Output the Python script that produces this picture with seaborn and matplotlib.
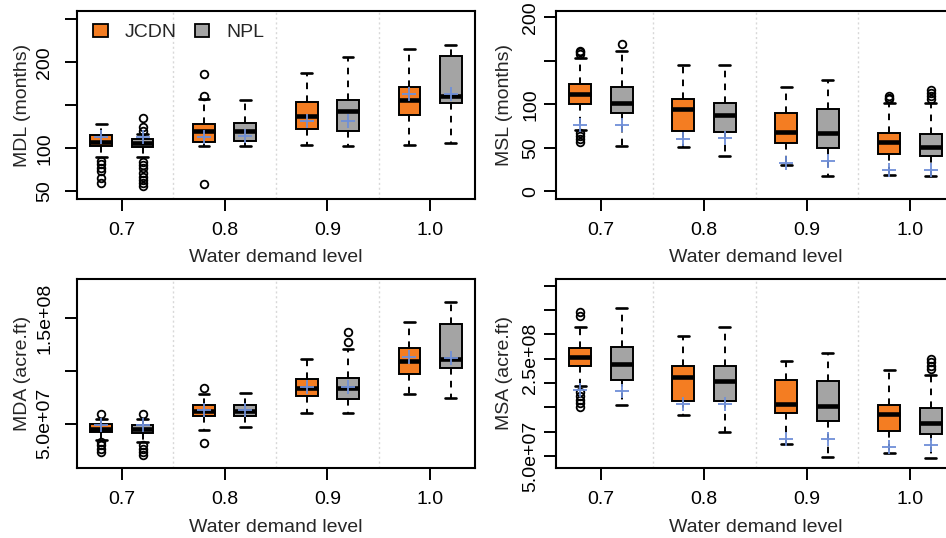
import numpy as np
import pandas as pd
import seaborn as sns
import matplotlib
matplotlib.use("Agg")
import matplotlib.pyplot as plt
from matplotlib.patches import Patch

# ---------------- data ----------------
LEVELS = [0.7, 0.8, 0.9, 1.0]
LEVEL_LABELS = ["0.7", "0.8", "0.9", "1.0"]
SERIES = ["JCDN", "NPL"]

# MDL (months)
mdl_jcdn = {"whislo": [90.4, 102.7, 103.8, 103.8], "q1": [102.7, 107.7, 122.3, 139.2],
            "med": [107.3, 120.4, 138.0, 155.8], "q3": [115.0, 128.0, 153.8, 171.2],
            "whishi": [128.8, 157.7, 187.7, 215.4], "mean": [112.7, 113.5, 131.9, 163.5]}
mdl_jcdn_fliers = [[85.8, 81.9, 76.9, 73.8, 65.4, 59.6], [186.5, 160.4, 58.8], [], []]
mdl_npl = {"whislo": [90.4, 102.7, 103.0, 105.8], "q1": [101.9, 108.8, 120.0, 153.1],
           "med": [105.8, 120.4, 143.5, 160.4], "q3": [110.4, 129.6, 155.8, 206.9],
           "whishi": [117.0, 156.5, 205.8, 220.4], "mean": [112.7, 114.2, 131.5, 163.5]}
mdl_npl_fliers = [[135.8, 125.0, 120.4, 84.6, 80.8, 76.9, 71.2, 67.3, 63.5, 59.6, 55.8], [], [], []]

# MSL (months)
msl_jcdn = {"whislo": [70.0, 50.5, 30.6, 18.4], "q1": [100.6, 69.2, 55.4, 43.2],
            "med": [111.7, 94.5, 67.7, 56.6], "q3": [123.5, 105.9, 89.5, 66.9],
            "whishi": [153.7, 144.9, 120.5, 102.1], "mean": [76.5, 60.0, 32.5, 24.1]}
msl_jcdn_fliers = [[161.8, 159.8, 157.9, 66.9, 63.5, 60.0, 56.2], [], [], [109.8, 107.8, 105.9]]
msl_npl = {"whislo": [52.4, 40.2, 17.2, 17.2], "q1": [89.9, 67.7, 50.1, 40.2],
           "med": [102.1, 87.6, 66.9, 50.5], "q3": [119.7, 101.3, 94.8, 66.2],
           "whishi": [161.8, 144.9, 127.7, 101.3], "mean": [76.1, 60.8, 34.4, 24.1]}
msl_npl_fliers = [[169.0], [], [], [116.6, 113.0, 109.8, 105.9]]

# MDA (acre.ft)
mda_jcdn = {"whislo": [3.49e7, 4.37e7, 6.04e7, 7.78e7], "q1": [4.21e7, 5.69e7, 7.59e7, 9.73e7],
            "med": [4.53e7, 6.20e7, 8.38e7, 10.99e7], "q3": [4.94e7, 6.74e7, 9.26e7, 12.16e7],
            "whishi": [5.47e7, 7.84e7, 11.09e7, 14.62e7], "mean": [4.84e7, 6.26e7, 8.47e7, 11.31e7]}
mda_jcdn_fliers = [[5.95e7, 3.26e7, 2.95e7, 2.63e7, 2.32e7], [8.41e7, 3.17e7], [], []]
mda_npl = {"whislo": [3.26e7, 4.68e7, 6.04e7, 7.46e7], "q1": [4.12e7, 5.69e7, 7.37e7, 10.27e7],
           "med": [4.46e7, 6.20e7, 8.38e7, 11.15e7], "q3": [4.84e7, 6.74e7, 9.32e7, 14.46e7],
           "whishi": [5.47e7, 7.93e7, 12.10e7, 16.51e7], "mean": [4.84e7, 6.26e7, 8.47e7, 11.25e7]}
mda_npl_fliers = [[5.95e7, 2.95e7, 2.63e7, 2.32e7, 2.0e7], [], [13.74e7, 12.79e7], []]

# MSA (acre.ft)
msa_jcdn = {"whislo": [19.4e7, 13.5e7, 7.4e7, 5.68e7], "q1": [23.6e7, 16.4e7, 13.9e7, 10.07e7],
            "med": [25.3e7, 21.2e7, 15.75e7, 13.7e7], "q3": [27.2e7, 23.6e7, 20.55e7, 15.4e7],
            "whishi": [31.6e7, 29.7e7, 24.45e7, 22.6e7], "mean": [18.5e7, 15.75e7, 8.56e7, 6.85e7]}
msa_jcdn_fliers = [[34.7e7, 33.8e7, 18.2e7, 17.4e7, 16.6e7, 15.8e7, 15.1e7], [], [], []]
msa_npl = {"whislo": [15.4e7, 9.93e7, 4.8e7, 4.66e7], "q1": [20.7e7, 16.4e7, 12.2e7, 9.6e7],
           "med": [24.0e7, 20.5e7, 15.2e7, 11.85e7], "q3": [27.5e7, 23.6e7, 20.5e7, 14.9e7],
           "whishi": [35.5e7, 31.6e7, 26.2e7, 21.7e7], "mean": [18.3e7, 15.75e7, 8.56e7, 7.19e7]}
msa_npl_fliers = [[], [], [], [25.0e7, 24.3e7, 23.6e7, 22.9e7]]

# ---------------- style ----------------
ORANGE = "#F47D22"
GRAY = "#A4A4A4"
MEAN_COLOR = "#6F8FD8"
SEP_COLOR = "#D8D8D8"
OFFSET = 0.0201
BOX_W = 0.021

sns.set_style("ticks")
plt.rcParams["font.family"] = ["Liberation Sans", "DejaVu Sans"]
plt.rcParams["font.size"] = 14

W, H = 946, 538
fig = plt.figure(figsize=(W / 100, H / 100), dpi=100)


def px_axes(l, t, r, b):
    return fig.add_axes([l / W, 1 - b / H, (r - l) / W, (b - t) / H])


def make_stats(d, fliers):
    keys = ["whislo", "q1", "med", "q3", "whishi", "mean"]
    return [dict({k: d[k][i] for k in keys}, fliers=fliers[i]) for i in range(len(LEVELS))]


def draw_panel(ax, jc, jc_f, npl, npl_f, ylabel, ylim, yticks, yticklabels,
               ylab_x, ytick_pad):
    for k, (d, f, color, sgn) in enumerate([(jc, jc_f, ORANGE, -1), (npl, npl_f, GRAY, 1)]):
        pos = [lv + sgn * OFFSET for lv in LEVELS]
        ax.bxp(make_stats(d, f), positions=pos, widths=BOX_W, capwidths=BOX_W * 0.5,
               patch_artist=True, showmeans=False, showfliers=True, manage_ticks=False,
               boxprops=dict(facecolor=color, edgecolor="black", linewidth=1.4),
               medianprops=dict(color="black", linewidth=3.3, solid_capstyle="butt"),
               whiskerprops=dict(color="black", linewidth=1.4, linestyle=(0, (3.4, 3.2))),
               capprops=dict(color="black", linewidth=1.9),
               flierprops=dict(marker="o", markerfacecolor="none", markeredgecolor="black",
                               markersize=5.5, markeredgewidth=1.3))
        sns.scatterplot(x=pos, y=d["mean"], marker="+", color=MEAN_COLOR, s=95,
                        linewidth=1.3, ax=ax, zorder=6, legend=False)
    for xs in [0.75, 0.85, 0.95]:
        ax.axvline(xs, color=SEP_COLOR, linestyle=(0, (1.5, 2.0)), linewidth=1.0, zorder=0)
    ax.set_xlim(0.6563, 1.0437)
    ax.set_ylim(*ylim)
    ax.set_xticks(LEVELS)
    ax.set_xticklabels(LEVEL_LABELS)
    ax.set_yticks(yticks)
    ax.set_yticklabels(yticklabels, rotation=90, va="center")
    ax.tick_params(axis="x", length=8.5, width=1.4, pad=8.0, labelsize=14, colors="black")
    ax.tick_params(axis="y", length=8.5, width=1.4, pad=ytick_pad, labelsize=14, colors="black")
    for sp in ax.spines.values():
        sp.set_linewidth(1.5)
        sp.set_color("black")
    ax.set_xlabel("Water demand level", fontsize=14)
    ax.xaxis.label.set_verticalalignment("center")
    ax.xaxis.set_label_coords(0.5, -59 / 188)
    ax.set_ylabel(ylabel, fontsize=14)
    ax.yaxis.label.set_verticalalignment("center")
    ax.yaxis.set_label_coords(ylab_x, 0.5)


ax1 = px_axes(77, 11, 475, 199)
ax2 = px_axes(556, 11, 955, 199)
ax3 = px_axes(77, 279, 475, 468)
ax4 = px_axes(556, 279, 955, 468)

draw_panel(ax1, mdl_jcdn, mdl_jcdn_fliers, mdl_npl, mdl_npl_fliers, "MDL (months)",
           (41.2, 259.6), [50, 100, 150, 200, 250], ["50", "100", "", "200", ""], -0.138, 8.6)
draw_panel(ax2, msl_jcdn, msl_jcdn_fliers, msl_npl, msl_npl_fliers, "MSL (months)",
           (-8.8, 207.3), [0, 50, 100, 150, 200], ["0", "50", "100", "", "200"], -0.130, 3.5)
draw_panel(ax3, mda_jcdn, mda_jcdn_fliers, mda_npl, mda_npl_fliers, "MDA (acre.ft)",
           (0.8e7, 18.72e7), [5e7, 1e8, 1.5e8], ["5.0e+07", "", "1.5e+08"], -0.138, 8.6)
msa_ticks = [5e7, 1e8, 1.5e8, 2e8, 2.5e8, 3e8, 3.5e8, 4e8]
msa_labels = ["5.0e+07", "", "", "", "2.5e+08", "", "", ""]
draw_panel(ax4, msa_jcdn, msa_jcdn_fliers, msa_npl, msa_npl_fliers, "MSA (acre.ft)",
           (2.53e7, 41.4e7), msa_ticks, msa_labels, -0.130, 3.5)

handles = [Patch(facecolor=ORANGE, edgecolor="black", linewidth=1.3, label=SERIES[0]),
           Patch(facecolor=GRAY, edgecolor="black", linewidth=1.3, label=SERIES[1])]
ax1.legend(handles=handles, loc="upper left", bbox_to_anchor=(0.040, 0.93), frameon=False,
           ncol=2, handlelength=0.75, handleheight=0.6, handletextpad=0.9,
           columnspacing=0.9, borderpad=0, borderaxespad=0, fontsize=14)

fig.savefig("out.png", dpi=100)
